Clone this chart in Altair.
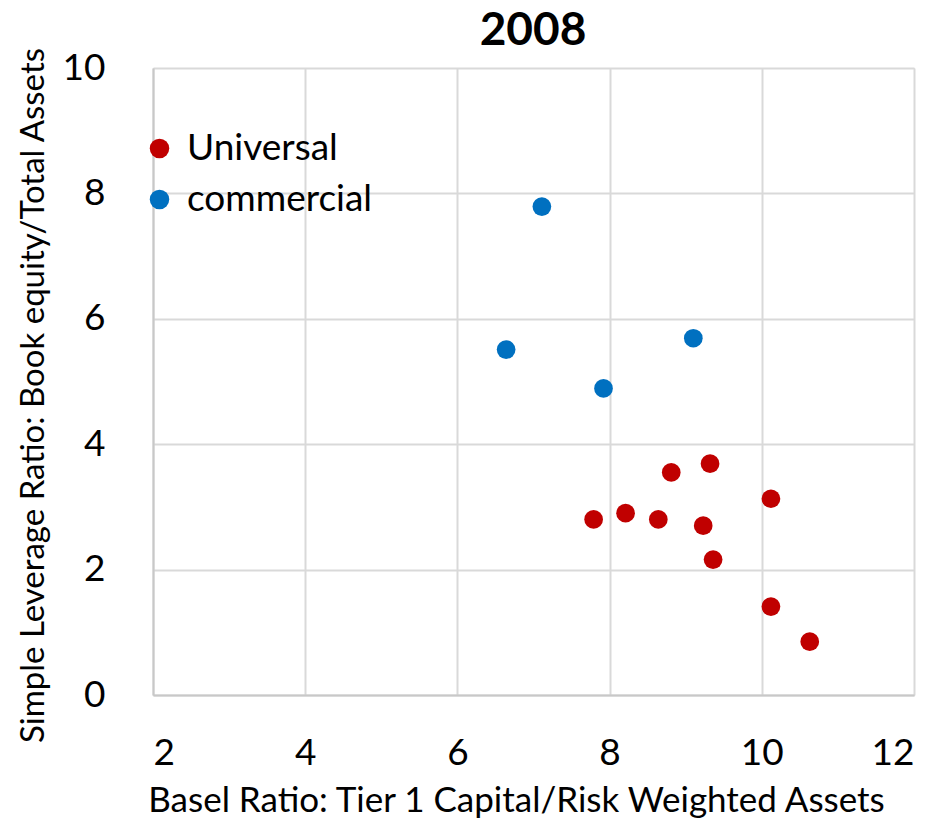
import altair as alt
import pandas as pd

universal_x = [8.81, 9.32, 10.12, 7.79, 8.21, 8.64, 9.23, 9.36, 10.12, 10.63]
universal_y = [3.55, 3.69, 3.13, 2.80, 2.90, 2.80, 2.70, 2.16, 1.41, 0.85]
commercial_x = [7.11, 6.64, 7.92, 9.10]
commercial_y = [7.79, 5.51, 4.89, 5.69]
groups = ["Universal", "commercial"]
colors = ["#C00000", "#0070C0"]
x_ticks = [2, 4, 6, 8, 10, 12]
y_ticks = [0, 2, 4, 6, 8, 10]
title_text = ["2008"]

rows = []
for x, y in zip(universal_x, universal_y):
    rows.append({"x": x, "y": y, "group": groups[0]})
for x, y in zip(commercial_x, commercial_y):
    rows.append({"x": x, "y": y, "group": groups[1]})
df = pd.DataFrame(rows)

FONT = "Lato"

points = alt.Chart(df).mark_circle(size=350, opacity=1).encode(
    x=alt.X("x:Q",
            scale=alt.Scale(domain=[2, 12], nice=False, zero=False),
            axis=alt.Axis(values=x_ticks, title="Basel Ratio: Tier 1 Capital/Risk Weighted Assets",
                          ticks=False, labelPadding=40, labelFontSize=37, labelFont=FONT,
                          labelColor="#000000", titleFont=FONT, titleFontSize=35,
                          titleFontWeight="normal", titleColor="#000000",
                          titleX=363, titleY=116, titleBaseline="alphabetic",
                          grid=True, gridColor="#D9D9D9", gridWidth=2,
                          domainColor="#C8C8C8", domainWidth=2)),
    y=alt.Y("y:Q",
            scale=alt.Scale(domain=[0, 10], nice=False),
            axis=alt.Axis(values=y_ticks, title="Simple Leverage Ratio: Book equity/Total Assets",
                          ticks=False, labelPadding=48, labelFontSize=37, labelFont=FONT,
                          labelColor="#000000", titleFont=FONT, titleFontSize=33,
                          titleFontWeight="normal", titleColor="#000000",
                          titleX=-110, titleY=327, titleBaseline="alphabetic",
                          grid=True, gridColor="#D9D9D9", gridWidth=2,
                          domainColor="#C8C8C8", domainWidth=2)),
    color=alt.Color("group:N",
                    scale=alt.Scale(domain=groups, range=colors),
                    legend=alt.Legend(title=None, orient="none", legendX=-12, legendY=62,
                                      labelFont=FONT, labelFontSize=37, labelColor="#000000",
                                      labelLimit=0,
                                      symbolSize=380, symbolType="circle", symbolOpacity=1,
                                      labelOffset=9, rowPadding=13, padding=0)),
)

title = alt.Chart(pd.DataFrame({"t": title_text})).mark_text(
    font=FONT, fontSize=46, fontWeight="bold", color="#000000",
    align="center", baseline="alphabetic"
).encode(
    text="t:N",
    x=alt.value(380),
    y=alt.value(-23),
)

chart = alt.layer(points, title).properties(
    width=761,
    height=627,
    autosize=alt.AutoSizeParams(type="none"),
    padding={"left": 145, "top": 60, "right": 21, "bottom": 123},
).configure_view(stroke=None).configure(background="white")

chart.save("out.html", embed_options={"renderer": "svg", "actions": False})
